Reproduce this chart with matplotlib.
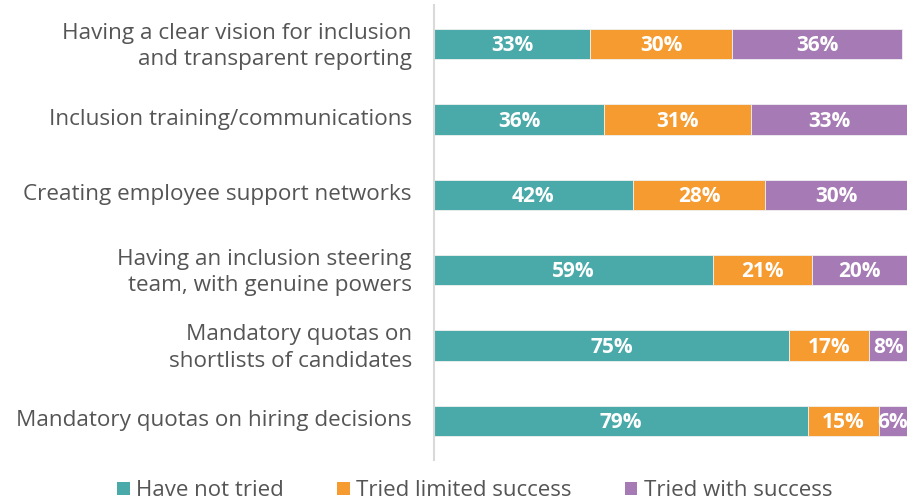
import matplotlib
matplotlib.use("Agg")
import matplotlib.pyplot as plt
from matplotlib.patches import Patch

plt.rcParams["font.family"] = ["Open Sans", "DejaVu Sans"]

CATEGORIES = [
    "Having a clear vision for inclusion\nand transparent reporting",
    "Inclusion training/communications",
    "Creating employee support networks",
    "Having an inclusion steering\nteam, with genuine powers",
    "Mandatory quotas on\nshortlists of candidates",
    "Mandatory quotas on hiring decisions",
]
NOT_TRIED = [33, 36, 42, 59, 75, 79]
LIMITED = [30, 31, 28, 21, 17, 15]
SUCCESS = [36, 33, 30, 20, 8, 6]
SERIES = ["Have not tried", "Tried limited success", "Tried with success"]
COLORS = ["#4aa9a9", "#f59b2f", "#a67ab5"]

fig = plt.figure(figsize=(9.08, 5.03), dpi=100)
ax = fig.add_axes([0.478, 0.0855, 0.521, 0.9045])

y = list(range(len(CATEGORIES)))
left = [0] * len(CATEGORIES)
for vals, col in zip([NOT_TRIED, LIMITED, SUCCESS], COLORS):
    ax.barh(y, vals, left=left, height=0.4, color=col,
            edgecolor="#f0f0f0", linewidth=0.6)
    for yi, l, v in zip(y, left, vals):
        ax.text(l + v / 2, yi + 0.02, f"{v}%", ha="center", va="center",
                color="white", fontsize=15, fontweight="bold")
    left = [a + b for a, b in zip(left, vals)]

ax.set_xlim(0, 100)
ax.set_ylim(5.52, -0.52)
ax.set_yticks([v - 0.04 for v in y])
ax.set_yticklabels(CATEGORIES, fontsize=16.2, color="#555555", linespacing=1.35)
ax.tick_params(axis="y", length=0, pad=16)
ax.set_xticks([])
for s in ["top", "right", "bottom"]:
    ax.spines[s].set_visible(False)
ax.spines["left"].set_color("#d9d9d9")
ax.spines["left"].set_linewidth(1.5)
for lbl in ax.get_yticklabels():
    lbl.set_multialignment("right")

handles = [Patch(facecolor=c, edgecolor="none") for c in COLORS]
fig.legend(handles, SERIES, loc="center", bbox_to_anchor=(0.523, 0.024),
           ncol=3, frameon=False, fontsize=16, handlelength=0.55,
           handleheight=0.55, handletextpad=0.3, columnspacing=2.4,
           labelcolor="#555555")

fig.savefig("out.png", dpi=100)
